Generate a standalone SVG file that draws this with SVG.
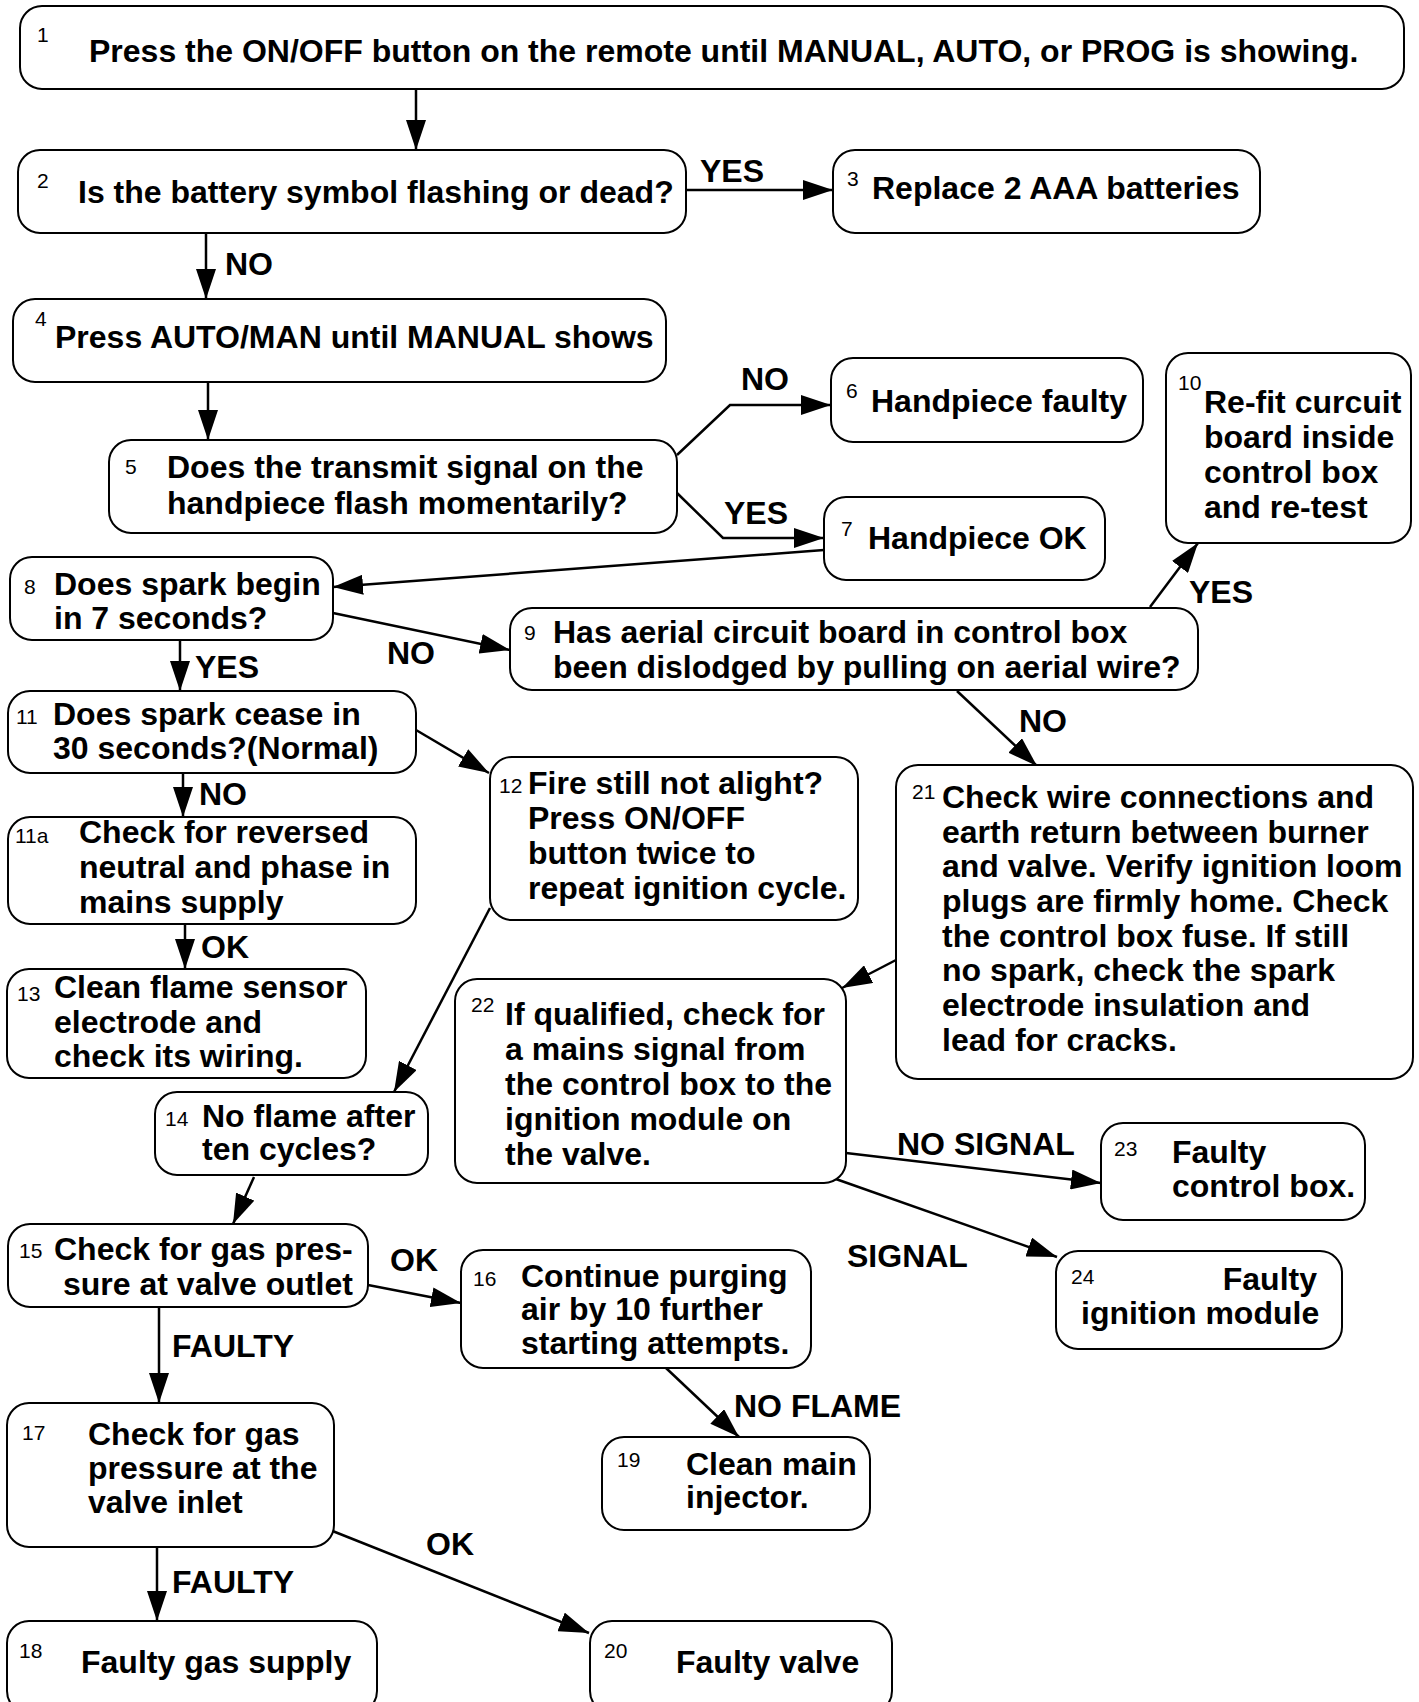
<svg xmlns="http://www.w3.org/2000/svg" width="1419" height="1702" viewBox="0 0 1419 1702">
<style>
.box{fill:#fff;stroke:#000;stroke-width:2}
.t{font-family:"Liberation Sans",Arial,sans-serif;font-weight:bold;font-size:32px;fill:#000}
.n{font-family:"Liberation Sans",Arial,sans-serif;font-size:21px;fill:#000}
.c{fill:none;stroke:#000;stroke-width:2.5;marker-end:url(#ah)}
</style>
<defs>
<marker id="ah" markerUnits="userSpaceOnUse" markerWidth="30" markerHeight="20" refX="30" refY="10" orient="auto" viewBox="0 0 30 20">
<path d="M0,0 L30,10 L0,20 z" fill="#000"/>
</marker>
</defs>
<rect width="1419" height="1702" fill="#fff"/>
<g id="connectors">
<line class="c" x1="416" y1="89" x2="416" y2="150"/>
<line class="c" x1="686" y1="190" x2="833" y2="190"/>
<line class="c" x1="206" y1="233" x2="206" y2="299"/>
<line class="c" x1="208" y1="382" x2="208" y2="440"/>
<polyline class="c" points="677,455 730,405 831,405"/>
<polyline class="c" points="677,493 723,538 824,538"/>
<line class="c" x1="824" y1="550" x2="333" y2="587"/>
<line class="c" x1="333" y1="613" x2="510" y2="650"/>
<line class="c" x1="1150" y1="607" x2="1198" y2="543"/>
<line class="c" x1="957" y1="691" x2="1037" y2="766"/>
<line class="c" x1="180" y1="640" x2="180" y2="691"/>
<line class="c" x1="416" y1="730" x2="489" y2="773"/>
<line class="c" x1="183" y1="773" x2="183" y2="817"/>
<line class="c" x1="185" y1="924" x2="185" y2="969"/>
<line class="c" x1="490" y1="908" x2="394" y2="1092"/>
<line class="c" x1="254" y1="1177" x2="233" y2="1224"/>
<line class="c" x1="368" y1="1285" x2="461" y2="1303"/>
<line class="c" x1="159" y1="1307" x2="159" y2="1403"/>
<line class="c" x1="666" y1="1368" x2="739" y2="1437"/>
<line class="c" x1="157" y1="1542" x2="157" y2="1621"/>
<line class="c" x1="330" y1="1530" x2="589" y2="1633"/>
<line class="c" x1="896" y1="960" x2="842" y2="988"/>
<line class="c" x1="846" y1="1153" x2="1101" y2="1183"/>
<line class="c" x1="833" y1="1178" x2="1057" y2="1257"/>
<text class="t" x="700" y="182">YES</text>
<text class="t" x="225" y="275">NO</text>
<text class="t" x="741" y="390">NO</text>
<text class="t" x="724" y="524">YES</text>
<text class="t" x="387" y="664">NO</text>
<text class="t" x="1189" y="603">YES</text>
<text class="t" x="1019" y="732">NO</text>
<text class="t" x="195" y="678">YES</text>
<text class="t" x="199" y="805">NO</text>
<text class="t" x="201" y="958">OK</text>
<text class="t" x="390" y="1271">OK</text>
<text class="t" x="172" y="1357">FAULTY</text>
<text class="t" x="734" y="1417">NO FLAME</text>
<text class="t" x="172" y="1593">FAULTY</text>
<text class="t" x="426" y="1555">OK</text>
<text class="t" x="897" y="1155">NO SIGNAL</text>
<text class="t" x="847" y="1267">SIGNAL</text>
</g>
<g id="n1"><rect class="box" x="20" y="6" width="1384" height="83" rx="22"/><text class="n" x="37" y="42">1</text><text class="t" x="89" y="62">Press the ON/OFF button on the remote until MANUAL, AUTO, or PROG is showing.</text></g>
<g id="n2"><rect class="box" x="18" y="150" width="668" height="83" rx="22"/><text class="n" x="37" y="188">2</text><text class="t" x="78" y="203">Is the battery symbol flashing or dead?</text></g>
<g id="n3"><rect class="box" x="833" y="150" width="427" height="83" rx="22"/><text class="n" x="847" y="186">3</text><text class="t" x="872" y="199">Replace 2 AAA batteries</text></g>
<g id="n4"><rect class="box" x="13" y="299" width="653" height="83" rx="22"/><text class="n" x="35" y="326">4</text><text class="t" x="55" y="348">Press AUTO/MAN until MANUAL shows</text></g>
<g id="n5"><rect class="box" x="109" y="440" width="568" height="93" rx="22"/><text class="n" x="125" y="474">5</text><text class="t" x="167" y="478">Does the transmit signal on the</text><text class="t" x="167" y="514">handpiece flash momentarily?</text></g>
<g id="n6"><rect class="box" x="831" y="358" width="312" height="84" rx="22"/><text class="n" x="846" y="398">6</text><text class="t" x="871" y="412">Handpiece faulty</text></g>
<g id="n7"><rect class="box" x="824" y="497" width="281" height="83" rx="22"/><text class="n" x="841" y="536">7</text><text class="t" x="868" y="549">Handpiece OK</text></g>
<g id="n8"><rect class="box" x="10" y="557" width="323" height="83" rx="22"/><text class="n" x="24" y="594">8</text><text class="t" x="54" y="595">Does spark begin</text><text class="t" x="54" y="629">in 7 seconds?</text></g>
<g id="n9"><rect class="box" x="510" y="608" width="688" height="82" rx="22"/><text class="n" x="524" y="640">9</text><text class="t" x="553" y="643">Has aerial circuit board in control box</text><text class="t" x="553" y="678">been dislodged by pulling on aerial wire?</text></g>
<g id="n10"><rect class="box" x="1166" y="353" width="245" height="190" rx="22"/><text class="n" x="1178" y="390">10</text><text class="t" x="1204" y="413">Re-fit curcuit</text><text class="t" x="1204" y="448">board inside</text><text class="t" x="1204" y="483">control box</text><text class="t" x="1204" y="518">and re-test</text></g>
<g id="n11"><rect class="box" x="8" y="691" width="408" height="82" rx="22"/><text class="n" x="16" y="724">11</text><text class="t" x="53" y="725">Does spark cease in</text><text class="t" x="53" y="759">30 seconds?(Normal)</text></g>
<g id="n11a"><rect class="box" x="8" y="817" width="408" height="107" rx="22"/><text class="n" x="15" y="843">11a</text><text class="t" x="79" y="843">Check for reversed</text><text class="t" x="79" y="878">neutral and phase in</text><text class="t" x="79" y="913">mains supply</text></g>
<g id="n12"><rect class="box" x="490" y="757" width="368" height="163" rx="22"/><text class="n" x="499" y="793">12</text><text class="t" x="528" y="794">Fire still not alight?</text><text class="t" x="528" y="829">Press ON/OFF</text><text class="t" x="528" y="864">button twice to</text><text class="t" x="528" y="899">repeat ignition cycle.</text></g>
<g id="n13"><rect class="box" x="7" y="969" width="359" height="109" rx="22"/><text class="n" x="17" y="1001">13</text><text class="t" x="54" y="998">Clean flame sensor</text><text class="t" x="54" y="1033">electrode and</text><text class="t" x="54" y="1067">check its wiring.</text></g>
<g id="n14"><rect class="box" x="155" y="1092" width="273" height="83" rx="22"/><text class="n" x="165" y="1126">14</text><text class="t" x="202" y="1127">No flame after</text><text class="t" x="202" y="1160">ten cycles?</text></g>
<g id="n15"><rect class="box" x="8" y="1224" width="360" height="83" rx="22"/><text class="n" x="19" y="1258">15</text><text class="t" x="54" y="1260">Check for gas pres-</text><text class="t" x="63" y="1295">sure at valve outlet</text></g>
<g id="n16"><rect class="box" x="461" y="1250" width="350" height="118" rx="22"/><text class="n" x="473" y="1286">16</text><text class="t" x="521" y="1287">Continue purging</text><text class="t" x="521" y="1320">air by 10 further</text><text class="t" x="521" y="1354">starting attempts.</text></g>
<g id="n17"><rect class="box" x="7" y="1403" width="327" height="144" rx="22"/><text class="n" x="22" y="1440">17</text><text class="t" x="88" y="1445">Check for gas</text><text class="t" x="88" y="1479">pressure at the</text><text class="t" x="88" y="1513">valve inlet</text></g>
<g id="n18"><rect class="box" x="7" y="1621" width="370" height="92" rx="22"/><text class="n" x="19" y="1658">18</text><text class="t" x="81" y="1673">Faulty gas supply</text></g>
<g id="n19"><rect class="box" x="602" y="1437" width="268" height="93" rx="22"/><text class="n" x="617" y="1467">19</text><text class="t" x="686" y="1475">Clean main</text><text class="t" x="686" y="1508">injector.</text></g>
<g id="n20"><rect class="box" x="590" y="1621" width="302" height="92" rx="22"/><text class="n" x="604" y="1658">20</text><text class="t" x="676" y="1673">Faulty valve</text></g>
<g id="n21"><rect class="box" x="896" y="765" width="517" height="314" rx="22"/><text class="n" x="912" y="799">21</text>
<text class="t" x="942" y="808">Check wire connections and</text>
<text class="t" x="942" y="843">earth return between burner</text>
<text class="t" x="942" y="877">and valve. Verify ignition loom</text>
<text class="t" x="942" y="912">plugs are firmly home. Check</text>
<text class="t" x="942" y="947">the control box fuse. If still</text>
<text class="t" x="942" y="981">no spark, check the spark</text>
<text class="t" x="942" y="1016">electrode insulation and</text>
<text class="t" x="942" y="1051">lead for cracks.</text></g>
<g id="n22"><rect class="box" x="455" y="979" width="391" height="204" rx="22"/><text class="n" x="471" y="1012">22</text>
<text class="t" x="505" y="1025">If qualified, check for</text>
<text class="t" x="505" y="1060">a mains signal from</text>
<text class="t" x="505" y="1095">the control box to the</text>
<text class="t" x="505" y="1130">ignition module on</text>
<text class="t" x="505" y="1165">the valve.</text></g>
<g id="n23"><rect class="box" x="1101" y="1123" width="264" height="97" rx="22"/><text class="n" x="1114" y="1156">23</text><text class="t" x="1172" y="1163">Faulty</text><text class="t" x="1172" y="1197">control box.</text></g>
<g id="n24"><rect class="box" x="1056" y="1251" width="286" height="98" rx="22"/><text class="n" x="1071" y="1284">24</text><text class="t" x="1317" y="1290" text-anchor="end">Faulty</text><text class="t" x="1081" y="1324">ignition module</text></g>
</svg>
